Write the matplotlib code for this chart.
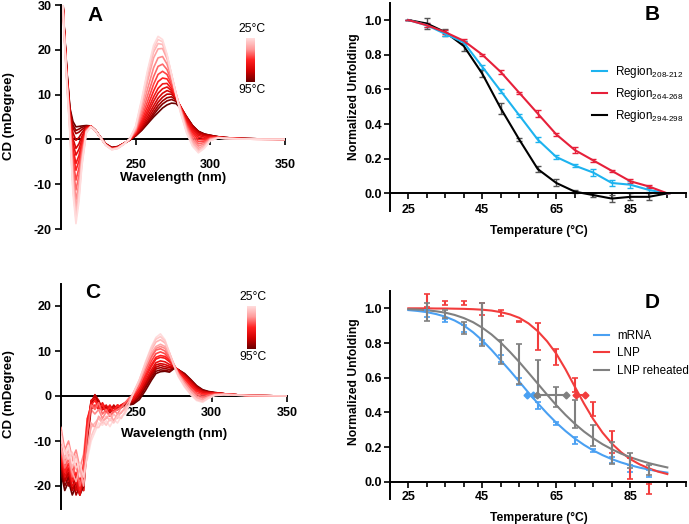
import numpy as np
import matplotlib.pyplot as plt
from matplotlib.colors import LinearSegmentedColormap, Normalize
from matplotlib.colorbar import ColorbarBase
from matplotlib.lines import Line2D
from matplotlib.ticker import MultipleLocator, FormatStrFormatter

plt.rcParams['font.family'] = ['Liberation Sans', 'DejaVu Sans']
plt.rcParams['mathtext.fontset'] = 'custom'
plt.rcParams['mathtext.rm'] = 'Liberation Sans'
plt.rcParams['mathtext.it'] = 'Liberation Sans:italic'
plt.rcParams['mathtext.bf'] = 'Liberation Sans:bold'
plt.rcParams['axes.unicode_minus'] = False

# ---------------- data ----------------
temps = [25, 30, 35, 40, 45, 50, 55, 60, 65, 70, 75, 80, 85, 90, 95]

# panel A: CD spectra of mRNA, one row per temperature
wl_a = [200, 202, 204, 206, 208, 210, 212, 214, 217, 220, 223, 226, 230, 234, 238, 242, 246,
        250, 254, 258, 262, 265, 268, 271, 274, 277, 280, 284, 288, 292, 296, 300, 305, 310, 320, 335, 350]
cd_a = [
    [40, 24.0, 12.0, 1.0, -12.0, -18.8, -14.0, -6.0, 1.5, 2.8, 2.0, 0.6, -1.3, -2.3, -2.0, -1.1, 0.1,
     3.0, 9.0, 15.5, 21.0, 23.0, 22.3, 19.0, 14.5, 10.0, 6.0, 1.5, -1.5, -3.0, -2.0, -0.3, 0.3, 0.2, 0.1, 0.0, 0.0],
    [40, 24.2, 12.2, 1.5, -11.0, -17.6, -13.0, -5.5, 1.6, 2.8, 2.0, 0.6, -1.3, -2.3, -2.0, -1.1, 0.1,
     2.8, 8.5, 15.0, 20.3, 22.3, 21.8, 18.8, 14.5, 10.2, 6.2, 1.8, -1.2, -2.7, -1.8, -0.2, 0.3, 0.2, 0.1, 0.0, 0.0],
    [40, 24.3, 12.4, 2.0, -10.0, -16.5, -12.0, -5.0, 1.7, 2.8, 2.0, 0.6, -1.3, -2.2, -2.0, -1.1, 0.1,
     2.6, 8.0, 14.2, 19.5, 21.4, 21.2, 18.5, 14.5, 10.3, 6.4, 2.0, -0.9, -2.4, -1.6, -0.1, 0.3, 0.2, 0.1, 0.0, 0.0],
    [40, 24.5, 12.6, 2.5, -9.0, -15.2, -11.0, -4.5, 1.8, 2.9, 2.0, 0.6, -1.3, -2.2, -1.9, -1.0, 0.1,
     2.4, 7.3, 13.0, 18.2, 20.2, 20.3, 18.0, 14.3, 10.3, 6.6, 2.4, -0.5, -2.0, -1.3, 0.0, 0.4, 0.2, 0.1, 0.0, 0.0],
    [40, 24.6, 12.8, 3.0, -7.5, -13.5, -9.8, -3.8, 1.9, 2.9, 2.0, 0.6, -1.2, -2.2, -1.9, -1.0, 0.1,
     2.1, 6.3, 11.3, 16.0, 18.2, 18.5, 16.8, 13.7, 10.2, 6.8, 2.8, 0.0, -1.5, -1.0, 0.1, 0.4, 0.3, 0.15, 0.05, 0.0],
    [40, 24.8, 13.0, 3.5, -6.0, -11.3, -8.0, -3.0, 2.0, 2.9, 2.0, 0.6, -1.2, -2.1, -1.9, -1.0, 0.0,
     1.9, 5.5, 9.8, 14.0, 16.3, 16.8, 15.6, 13.0, 10.0, 6.8, 3.1, 0.5, -1.0, -0.7, 0.2, 0.4, 0.3, 0.15, 0.05, 0.0],
    [40, 25.0, 13.2, 4.0, -4.5, -9.1, -6.4, -2.2, 2.2, 2.9, 2.0, 0.6, -1.2, -2.1, -1.8, -1.0, 0.0,
     1.7, 4.8, 8.5, 12.3, 14.5, 15.2, 14.5, 12.4, 9.8, 7.0, 3.5, 1.0, -0.5, -0.4, 0.3, 0.5, 0.3, 0.15, 0.05, 0.0],
    [40, 25.1, 13.4, 4.5, -3.0, -6.9, -4.8, -1.4, 2.3, 2.9, 2.0, 0.6, -1.2, -2.1, -1.8, -1.0, 0.0,
     1.5, 4.2, 7.4, 10.8, 12.9, 13.7, 13.5, 11.9, 9.6, 7.1, 3.8, 1.5, 0.0, -0.1, 0.4, 0.5, 0.3, 0.15, 0.05, 0.0],
    [40, 25.3, 13.6, 5.0, -2.0, -5.4, -3.6, -0.8, 2.4, 2.9, 2.0, 0.6, -1.2, -2.0, -1.8, -1.0, 0.0,
     1.3, 3.7, 6.5, 9.5, 11.4, 12.4, 12.5, 11.3, 9.4, 7.2, 4.1, 1.9, 0.5, 0.2, 0.5, 0.5, 0.3, 0.15, 0.05, 0.0],
    [40, 25.4, 13.8, 5.3, -0.8, -3.5, -2.2, 0.0, 2.5, 2.9, 2.0, 0.6, -1.2, -2.0, -1.8, -1.0, 0.0,
     1.2, 3.3, 5.8, 8.5, 10.3, 11.3, 11.7, 10.9, 9.3, 7.3, 4.5, 2.3, 0.9, 0.5, 0.6, 0.5, 0.3, 0.15, 0.05, 0.0],
    [40, 25.5, 14.0, 5.6, 0.2, -2.0, -1.0, 0.7, 2.6, 3.0, 2.0, 0.6, -1.1, -2.0, -1.7, -0.9, -0.1,
     1.1, 2.9, 5.1, 7.5, 9.2, 10.3, 10.9, 10.5, 9.2, 7.4, 4.8, 2.6, 1.2, 0.8, 0.7, 0.5, 0.4, 0.2, 0.1, 0.0],
    [40, 25.6, 14.2, 6.0, 1.5, -0.2, 0.4, 1.5, 2.8, 3.0, 2.1, 0.6, -1.1, -1.9, -1.7, -0.9, -0.1,
     1.0, 2.6, 4.5, 6.7, 8.3, 9.4, 10.1, 10.1, 9.0, 7.4, 5.0, 2.9, 1.5, 1.0, 0.8, 0.5, 0.4, 0.2, 0.1, 0.0],
    [40, 25.7, 14.5, 6.3, 2.6, 1.3, 1.6, 2.2, 2.9, 3.0, 2.1, 0.7, -1.0, -1.9, -1.7, -0.9, -0.1,
     0.9, 2.3, 4.0, 6.0, 7.5, 8.6, 9.3, 9.5, 8.8, 7.3, 5.1, 3.1, 1.7, 1.1, 0.9, 0.6, 0.4, 0.2, 0.1, 0.0],
    [40, 25.8, 14.8, 6.6, 3.2, 2.0, 2.3, 2.7, 3.0, 3.0, 2.1, 0.7, -1.0, -1.8, -1.6, -0.9, -0.1,
     0.8, 2.1, 3.7, 5.5, 6.8, 7.9, 8.6, 8.9, 8.5, 7.2, 5.1, 3.1, 1.8, 1.2, 0.9, 0.6, 0.4, 0.2, 0.1, 0.0],
    [40, 26.0, 15.0, 7.0, 4.0, 2.8, 2.9, 3.0, 3.1, 3.0, 2.1, 0.7, -1.0, -1.8, -1.6, -0.9, -0.2,
     0.8, 2.0, 3.5, 5.0, 6.0, 7.0, 7.7, 8.1, 8.0, 7.0, 5.0, 3.1, 1.8, 1.2, 0.9, 0.6, 0.4, 0.2, 0.1, 0.0],
]

# panel C: CD spectra of LNP, one row per temperature
wl_c = [200, 202.5, 205, 207.5, 210, 212.5, 215, 217.5, 220, 222.5, 225, 227.5, 230, 232.5, 235, 237.5, 240, 242.5, 245,
        248, 252, 256, 260, 263, 266, 269, 272, 275, 278, 282, 286, 290, 294, 298, 302, 308, 315, 325, 350]
cd_c = [
    [-9, -13, -11, -15, -14, -18, -16, -14, -10, -8, -6, -6.5, -5.5, -6.8, -5.2, -6, -4.5, -4, -2.2,
     0.5, 3.5, 7.5, 11, 13, 13.8, 12.5, 9.5, 6.5, 4.2, 2, 0.3, -1, -1.4, -0.5, 0.1, 0.3, 0.2, 0.1, 0.0],
    [-10, -12, -14, -12.5, -16, -15, -18, -13, -9, -7, -7, -5.5, -6.5, -5, -6, -4.5, -5, -3.5, -2,
     0.6, 3.6, 7.3, 10.7, 12.6, 13.2, 12.2, 9.6, 6.7, 4.4, 2.2, 0.5, -0.8, -1.2, -0.4, 0.2, 0.3, 0.2, 0.1, 0.0],
    [-8, -14, -12, -16, -13, -17, -15, -11, -7, -6, -5, -6, -4.5, -5.5, -4, -5, -3.5, -3, -1.5,
     0.7, 3.5, 7.0, 10.2, 12.0, 12.5, 11.8, 9.6, 6.9, 4.6, 2.5, 0.8, -0.6, -1.0, -0.3, 0.2, 0.3, 0.2, 0.1, 0.0],
    [-11, -15, -13, -17, -19, -16, -20, -12, -6, -7, -4.5, -5.5, -5, -4, -5.5, -4, -3.8, -2.5, -1.2,
     0.6, 3.2, 6.5, 9.5, 11.0, 11.5, 11.0, 9.4, 7.0, 4.8, 2.8, 1.1, -0.3, -0.8, -0.2, 0.3, 0.4, 0.3, 0.1, 0.0],
    [-7, -12, -10, -14, -12, -16, -13, -5, -3, -4, -3, -5, -3.5, -4.5, -3, -4, -2.5, -2, -0.8,
     0.5, 2.8, 6.0, 9.0, 10.6, 11.0, 10.6, 9.0, 7.0, 5.0, 3.0, 1.3, 0.0, -0.5, 0.0, 0.3, 0.4, 0.3, 0.1, 0.0],
    [-12, -16, -14, -18, -15, -20, -17, -8, -2, -3, -1.5, -4, -3, -4.5, -3.5, -3, -2.5, -1.5, -0.5,
     0.3, 2.4, 5.6, 8.6, 10.2, 10.5, 10.0, 8.5, 6.8, 5.0, 3.3, 1.7, 0.4, -0.2, 0.2, 0.4, 0.5, 0.3, 0.1, 0.0],
    [-9, -13, -17, -14, -19, -16, -18, -6, -1.5, -2.5, -1, -3, -2.5, -4, -3, -2.5, -2, -1.5, -0.8,
     0.1, 2.0, 5.0, 7.8, 9.4, 9.8, 9.4, 8.2, 6.8, 5.2, 3.6, 2.0, 0.7, 0.2, 0.4, 0.5, 0.5, 0.3, 0.1, 0.0],
    [-13, -17, -15, -19, -17, -21, -15, -5, -2, -1, -2.5, -2, -3.5, -2.5, -3.5, -2, -2.5, -1.5, -1.0,
     -0.2, 1.6, 4.4, 7.0, 8.6, 9.0, 8.8, 7.9, 6.8, 5.4, 3.9, 2.4, 1.1, 0.5, 0.5, 0.6, 0.5, 0.3, 0.1, 0.0],
    [-10, -15, -18, -16, -20, -18, -21, -10, -3, -2, -3, -1.5, -3, -2, -3.5, -2.5, -2, -1.8, -1.2,
     -0.5, 1.3, 4.0, 6.6, 8.2, 8.6, 8.4, 7.6, 6.7, 5.6, 4.2, 2.7, 1.3, 0.7, 0.6, 0.6, 0.5, 0.3, 0.1, 0.0],
    [-14, -18, -16, -20, -19, -22, -18, -8, -1, -0.5, -2, -3, -2, -3.5, -2.5, -3, -2, -1.5, -1.2,
     -0.8, 1.0, 3.4, 5.8, 7.4, 7.8, 7.6, 7.0, 6.6, 5.7, 4.4, 3.0, 1.6, 0.9, 0.7, 0.7, 0.5, 0.3, 0.1, 0.0],
    [-12, -16, -19, -17, -21, -19, -20, -7, -2, 0, -1.5, -2.5, -3.5, -2.5, -3, -2, -2.5, -1.8, -1.5,
     -1.0, 0.6, 3.0, 5.3, 6.9, 7.2, 7.0, 6.6, 6.5, 5.8, 4.6, 3.2, 1.8, 1.0, 0.8, 0.7, 0.5, 0.3, 0.1, 0.0],
    [-15, -19, -17, -21, -18, -22, -19, -9, -1.5, 0.3, -1, -3, -2.5, -3.5, -2, -3, -2.2, -1.8, -1.5,
     -1.2, 0.3, 2.6, 4.9, 6.4, 6.8, 6.5, 6.3, 6.4, 5.8, 4.7, 3.4, 2.0, 1.1, 0.8, 0.7, 0.5, 0.3, 0.1, 0.0],
    [-13, -18, -20, -18, -22, -20, -21, -8, -1, -0.2, -2, -2.5, -3, -2.2, -3.2, -2.4, -2.6, -2, -1.6,
     -1.4, -0.1, 2.2, 4.5, 6.0, 6.3, 6.1, 5.9, 6.3, 5.8, 4.8, 3.5, 2.1, 1.2, 0.9, 0.7, 0.5, 0.3, 0.1, 0.0],
    [-16, -20, -18, -21, -19, -22, -20, -10, -2, 0.2, -1.5, -2.8, -2.2, -3.6, -2.4, -2.8, -2.2, -2.0, -1.8,
     -1.6, -0.4, 1.8, 4.0, 5.5, 5.8, 5.7, 5.5, 6.2, 5.8, 4.9, 3.6, 2.2, 1.3, 0.9, 0.7, 0.5, 0.3, 0.1, 0.0],
    [-17, -21, -19, -22, -20, -21, -19, -9, -1.5, -0.5, -2, -3, -2.5, -3.2, -2.6, -3, -2.4, -2.2, -2.0,
     -1.8, -0.8, 1.2, 3.5, 5.0, 5.4, 5.5, 5.3, 6.1, 5.8, 5.0, 3.7, 2.3, 1.4, 1.0, 0.8, 0.5, 0.3, 0.1, 0.0],
]

# panel B: normalized unfolding of three spectral regions
reg208 = [1.0, 0.97, 0.92, 0.87, 0.73, 0.59, 0.45, 0.31, 0.21, 0.16, 0.12, 0.06, 0.05, 0.02, 0.0]
reg208_err = [0, 0.01, 0.01, 0.01, 0.01, 0.01, 0.01, 0.015, 0.01, 0.01, 0.02, 0.015, 0.02, 0.015, 0]
reg264 = [1.0, 0.97, 0.93, 0.88, 0.80, 0.70, 0.58, 0.46, 0.34, 0.25, 0.19, 0.13, 0.07, 0.04, 0.0]
reg264_err = [0, 0.01, 0.01, 0.01, 0.005, 0.01, 0.005, 0.02, 0.01, 0.02, 0.01, 0.005, 0.01, 0.01, 0]
reg294 = [1.0, 0.98, 0.93, 0.85, 0.69, 0.49, 0.31, 0.14, 0.06, 0.01, -0.01, -0.03, -0.02, -0.02, 0.0]
reg294_err = [0, 0.03, 0.02, 0.03, 0.02, 0.03, 0.01, 0.015, 0.02, 0.01, 0.01, 0.02, 0.02, 0.02, 0]

# panel D: measured points and fitted curves
temp_pts = [30, 35, 40, 45, 50, 55, 60, 65, 70, 75, 80, 85, 90]
mrna = [0.97, 0.93, 0.885, 0.807, 0.71, 0.577, 0.437, 0.337, 0.24, 0.18, 0.125, 0.077, 0.048]
mrna_err = [0.02, 0.01, 0.02, 0.01, 0.02, 0.02, 0.02, 0.01, 0.02, 0.01, 0.02, 0.02, 0.02]
lnp = [1.045, 1.03, 1.03, 0.995, 0.972, 0.922, 0.837, 0.718, 0.56, 0.417, 0.229, 0.074, -0.042]
lnp_err = [0.035, 0.01, 0.01, 0.035, 0.018, 0.003, 0.077, 0.045, 0.04, 0.04, 0.065, 0.06, 0.029]
reheat = [0.98, 0.966, 0.887, 0.906, 0.748, 0.678, 0.596, 0.49, 0.39, 0.265, 0.166, 0.122, 0.068]
reheat_err = [0.052, 0.024, 0.036, 0.123, 0.069, 0.115, 0.106, 0.058, 0.08, 0.062, 0.064, 0.045, 0.03]

temp_fit = [25, 27.5, 30, 32.5, 35, 37.5, 40, 42.5, 45, 47.5, 50, 52.5, 55, 57.5, 60,
            62.5, 65, 67.5, 70, 72.5, 75, 77.5, 80, 82.5, 85, 87.5, 90, 92.5, 95]
mrna_fit = [0.990, 0.985, 0.978, 0.967, 0.952, 0.930, 0.901, 0.862, 0.815, 0.760, 0.700, 0.640, 0.577, 0.513, 0.452,
            0.394, 0.340, 0.292, 0.249, 0.212, 0.180, 0.153, 0.130, 0.111, 0.095, 0.081, 0.070, 0.060, 0.052]
lnp_fit = [1.0, 1.0, 1.0, 0.999, 0.999, 0.998, 0.997, 0.995, 0.992, 0.987, 0.978, 0.965, 0.945, 0.913, 0.868,
           0.810, 0.738, 0.648, 0.548, 0.450, 0.360, 0.283, 0.220, 0.170, 0.130, 0.100, 0.077, 0.058, 0.044]
reheat_fit = [0.995, 0.993, 0.989, 0.983, 0.975, 0.962, 0.944, 0.920, 0.888, 0.849, 0.802, 0.748, 0.690, 0.628, 0.565,
              0.502, 0.441, 0.385, 0.334, 0.289, 0.250, 0.216, 0.187, 0.162, 0.141, 0.123, 0.107, 0.094, 0.082]

# melting temperatures with confidence range (mRNA, LNP, LNP reheated)
tm_mid = [57.9, 71.6, 63.7]
tm_half = [0.9, 1.2, 3.8]

# ---------------- styling ----------------
blue_b, red_b = '#1db3ef', '#e6203a'
blue_d, red_d, gray_d = '#4aa0f2', '#f23c3c', '#808080'
cmap = LinearSegmentedColormap.from_list(
    'heat', ['#ffdcdc', '#ff9a9a', '#ff2020', '#d00000', '#6a0000'])

W, H = 689, 524
fig = plt.figure(figsize=(W / 100, H / 100), dpi=100)


def px_axes(l, t, r, b):
    return fig.add_axes([l / W, 1 - b / H, (r - l) / W, (b - t) / H])


def style(ax):
    for s in ['top', 'right']:
        ax.spines[s].set_visible(False)
    for s in ['left', 'bottom']:
        ax.spines[s].set_linewidth(1.4)
    ax.spines['bottom'].set_position(('data', 0))
    ax.tick_params(which='both', direction='out', width=1.2, labelsize=9)
    ax.tick_params(which='major', length=4.3)
    ax.tick_params(which='minor', length=3.5)


def bold_ticks(ax):
    for lab in ax.get_xticklabels() + ax.get_yticklabels():
        lab.set_fontweight('bold')


def cd_panel(ax, wl, rows, order, ylim, yticks, xpad):
    norm = Normalize(25, 95)
    for i in order:
        ax.plot(wl, rows[i], color=cmap(norm(temps[i])), lw=1.2, zorder=2)
    ax.set_xlim(200, 350)
    ax.set_ylim(*ylim)
    ax.set_xticks([250, 300, 350])
    ax.set_yticks(yticks)
    ax.set_axisbelow(True)
    style(ax)
    for s in ['left', 'bottom']:
        ax.spines[s].set_zorder(0.5)
    ax.tick_params(axis='x', pad=xpad)
    ax.tick_params(axis='y', pad=2.4)
    bold_ticks(ax)


def colorbar(l, t, r, b):
    cax = px_axes(l, t, r, b)
    cb = ColorbarBase(cax, cmap=cmap.reversed(), norm=Normalize(0, 1), orientation='vertical')
    cb.outline.set_visible(False)
    cb.set_ticks([])
    fig.text((l + r) / 2 / W + 0.002, 1 - (t - 8.5) / H, '25°C', ha='center', va='center', fontsize=8.7)
    fig.text((l + r) / 2 / W + 0.002, 1 - (b + 8) / H, '95°C', ha='center', va='center', fontsize=8.7)


def unfold_style(ax, xpad):
    ax.set_xlim(20, 100)
    ax.set_ylim(-0.1, 1.1)
    ax.set_xticks([25, 45, 65, 85])
    ax.xaxis.set_minor_locator(MultipleLocator(5))
    ax.set_yticks([0.0, 0.2, 0.4, 0.6, 0.8, 1.0])
    ax.yaxis.set_major_formatter(FormatStrFormatter('%.1f'))
    style(ax)
    ax.tick_params(axis='x', pad=xpad)
    ax.tick_params(axis='y', pad=1.5)
    bold_ticks(ax)


# ---------------- panel A ----------------
axA = px_axes(61, 5, 285, 229)
cd_panel(axA, wl_a, cd_a, range(14, -1, -1), (-20, 30), [-20, -10, 0, 10, 20, 30], 9.5)
colorbar(246, 38, 255, 82)

# ---------------- panel C ----------------
axC = px_axes(61, 283.5, 287, 508.5)
cd_panel(axC, wl_c, cd_c, [14, 12, 10, 8, 6, 4, 2, 0, 13, 11, 9, 7, 5, 3, 1], (-25, 25), [-20, -10, 0, 10, 20], 3.5)
colorbar(247, 306, 256, 349)

# ---------------- panel B ----------------
axB = px_axes(389.8, 2.7, 685.8, 210.7)
ekw = dict(lw=1.5, capsize=2, elinewidth=1.0, capthick=1.0)
axB.errorbar(temps, reg294, yerr=reg294_err, color='black', ecolor='#555555', **ekw)
axB.errorbar(temps, reg208, yerr=reg208_err, color=blue_b, **ekw)
axB.errorbar(temps, reg264, yerr=reg264_err, color=red_b, **ekw)
unfold_style(axB, 3.6)
handles_b = [Line2D([], [], color=c, lw=1.5) for c in [blue_b, red_b, 'black']]
labels_b = ['Region$_{208‐212}$', 'Region$_{264‐268}$', 'Region$_{294‐298}$']
axB.legend(handles_b, labels_b, loc='center left',
           bbox_to_anchor=(586 / W, 1 - 94 / H), bbox_transform=fig.transFigure,
           frameon=False, fontsize=8.4, handlelength=1.3, handletextpad=0.7,
           borderpad=0, labelspacing=0.5)

# ---------------- panel D ----------------
axD = px_axes(389.8, 291, 685.8, 499)
dkw = dict(fmt='none', capsize=2.2, elinewidth=1.5, capthick=1.2)
axD.plot(temp_fit, mrna_fit, color=blue_d, lw=1.5)
axD.plot(temp_fit, lnp_fit, color=red_d, lw=1.5)
axD.plot(temp_fit, reheat_fit, color=gray_d, lw=1.5)
axD.errorbar(temp_pts, mrna, yerr=mrna_err, ecolor=blue_d, **dkw)
axD.errorbar(temp_pts, lnp, yerr=lnp_err, ecolor=red_d, **dkw)
axD.errorbar(temp_pts, reheat, yerr=reheat_err, ecolor=gray_d, **dkw)
for mid, half, c in zip(tm_mid, tm_half, [blue_d, red_d, gray_d]):
    axD.plot([mid - half, mid + half], [0.5, 0.5], color=c, lw=1.5, marker='D', ms=3.5)
unfold_style(axD, 2.6)
handles_d = [Line2D([], [], color=c, lw=1.5) for c in [blue_d, red_d, gray_d]]
axD.legend(handles_d, ['mRNA', 'LNP', 'LNP reheated'], loc='center left',
           bbox_to_anchor=(588 / W, 1 - 353.5 / H), bbox_transform=fig.transFigure,
           frameon=False, fontsize=8.4, handlelength=1.3, handletextpad=0.7,
           borderpad=0, labelspacing=0.5)

# ---------------- labels ----------------
def ftext(x, y, s, **kw):
    fig.text(x / W, 1 - y / H, s, ha='center', va='center', **kw)

ftext(95, 15.5, 'A', fontsize=15, fontweight='bold')
ftext(652, 15, 'B', fontsize=15, fontweight='bold')
ftext(93, 293, 'C', fontsize=15, fontweight='bold')
ftext(652, 303, 'D', fontsize=15, fontweight='bold')

ftext(173, 178, 'Wavelength (nm)', fontsize=9.5, fontweight='bold')
ftext(174, 434, 'Wavelength (nm)', fontsize=9.5, fontweight='bold')
ftext(9, 116, 'CD (mDegree)', fontsize=9.5, fontweight='bold', rotation=90)
ftext(9, 394, 'CD (mDegree)', fontsize=9.5, fontweight='bold', rotation=90)
ftext(539, 231, 'Temperature (°C)', fontsize=8.7, fontweight='bold')
ftext(539, 518, 'Temperature (°C)', fontsize=8.7, fontweight='bold')
ftext(354, 97, 'Normalized Unfolding', fontsize=8.7, fontweight='bold', rotation=90)
ftext(354, 382, 'Normalized Unfolding', fontsize=8.7, fontweight='bold', rotation=90)

fig.savefig('out.png', dpi=100)
